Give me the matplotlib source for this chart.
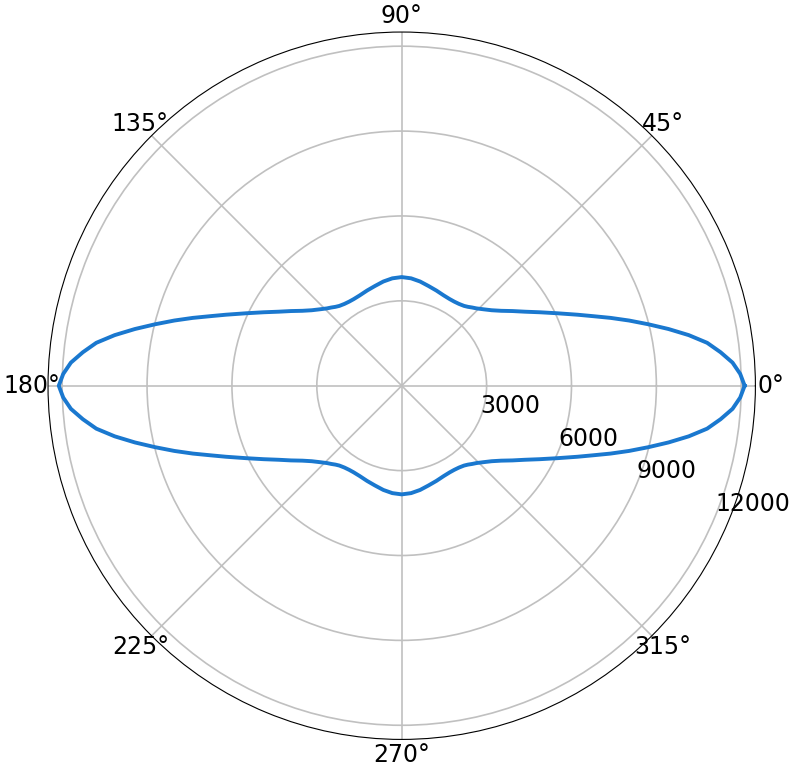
import numpy as np
import matplotlib
matplotlib.use("Agg")
import matplotlib.pyplot as plt

angles_deg = [0, 2, 4, 6, 8, 10, 12, 14, 16, 18, 20, 22, 25, 28, 31, 34, 37, 40, 43, 46, 48, 50, 52, 55, 58, 61, 65, 70, 75, 80, 85, 90,
              95, 100, 105, 110, 115, 119, 122, 125, 128, 130, 132, 134, 137, 140, 143, 146, 149, 152, 155, 158, 160, 162, 164, 166, 168, 170, 172, 174, 176, 178, 180,
              182, 184, 186, 188, 190, 192, 194, 196, 198, 200, 202, 205, 208, 211, 214, 217, 220, 223, 226, 228, 230, 232, 235, 238, 241, 245, 250, 255, 260, 265, 270,
              275, 280, 285, 290, 295, 299, 302, 305, 308, 310, 312, 314, 317, 320, 323, 326, 329, 332, 335, 338, 340, 342, 344, 346, 348, 350, 352, 354, 356, 358, 360]
radius = [12120, 11970, 11720, 11330, 10900, 10300, 9640, 8980, 8360, 7760, 7190, 6700, 6060, 5530, 5080, 4720, 4400, 4150, 3960, 3800, 3720, 3640, 3580, 3530, 3505, 3500, 3520, 3580, 3650, 3740, 3810, 3840,
          3810, 3740, 3650, 3580, 3520, 3500, 3505, 3530, 3580, 3640, 3720, 3800, 3960, 4150, 4400, 4720, 5080, 5530, 6060, 6700, 7190, 7760, 8360, 8980, 9640, 10300, 10900, 11330, 11720, 11970, 12120,
          11970, 11720, 11330, 10900, 10300, 9640, 8980, 8360, 7760, 7190, 6700, 6060, 5530, 5080, 4720, 4400, 4150, 3960, 3800, 3720, 3640, 3580, 3530, 3505, 3500, 3520, 3580, 3650, 3740, 3810, 3840,
          3810, 3740, 3650, 3580, 3520, 3500, 3505, 3530, 3580, 3640, 3720, 3800, 3960, 4150, 4400, 4720, 5080, 5530, 6060, 6700, 7190, 7760, 8360, 8980, 9640, 10300, 10900, 11330, 11720, 11970, 12120]
r_ticks = [3000, 6000, 9000, 12000]
r_tick_labels = ["3000", "6000", "9000", "12000"]

fig = plt.figure(figsize=(7.95, 7.72), dpi=100)
ax = fig.add_axes([0.0604, 0.0422, 0.8898, 0.9163], projection="polar")
ax.plot(np.deg2rad(angles_deg), radius, color="#1a78cf", lw=2.8)
ax.set_ylim(0, 12500)
ax.set_yticks(r_ticks)
ax.set_yticklabels(r_tick_labels)
ax.set_rlabel_position(-22.5)
ax.grid(True, color="#c0c0c0", lw=1.2)
ax.tick_params(labelsize=17)
ax.tick_params(axis="x", pad=1)
ax.spines["polar"].set_linewidth(0.8)
fig.savefig("out.png", dpi=100)
